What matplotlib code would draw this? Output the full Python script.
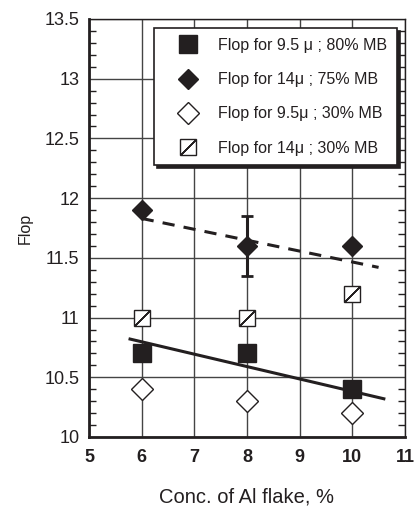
"""Flop vs. Al flake concentration for two particle sizes / MB levels."""
import matplotlib.pyplot as plt
from matplotlib.ticker import MultipleLocator, FormatStrFormatter

plt.rcParams['font.family'] = ['Liberation Sans', 'DejaVu Sans']

conc = [6, 8, 10]
flop_95_80 = [10.7, 10.7, 10.4]
flop_14_75 = [11.9, 11.6, 11.6]
flop_95_30 = [10.4, 10.3, 10.2]
flop_14_30 = [11.0, 11.0, 11.2]

# error bar on the 14u / 75% MB point at 8 %
err_x = [8]
err_y = [11.6]
err_half = [0.25]

# trend lines as drawn in the original
trend_solid_x = [5.78, 10.6]
trend_solid_y = [10.82, 10.32]
trend_dash_x = [6.0, 10.5]
trend_dash_y = [11.83, 11.42]

INK = '#231f20'

fig = plt.figure(figsize=(4.17, 5.08), dpi=100)
ax = fig.add_axes([0.2134, 0.1398, 0.7576, 0.8228])

ax.plot(trend_solid_x, trend_solid_y, color=INK, lw=2.2, zorder=2)
ax.plot(trend_dash_x, trend_dash_y, color=INK, lw=2.2,
        dashes=(4, 3), zorder=2)
ax.errorbar(err_x, err_y, yerr=err_half, fmt='none', ecolor=INK,
            elinewidth=2.2, capsize=4, capthick=2, zorder=3)

h1, = ax.plot(conc, flop_95_80, ls='none', marker='s', ms=12.5, mfc=INK,
              mec=INK, zorder=4)
h2, = ax.plot(conc, flop_14_75, ls='none', marker='D', ms=10, mfc=INK,
              mec=INK, zorder=4)
h3, = ax.plot(conc, flop_95_30, ls='none', marker='D', ms=11.5, mfc='white',
              mec=INK, mew=1.0, zorder=4)
h4, = ax.plot(conc, flop_14_30, ls='none', marker='s', ms=12, mfc='white',
              mec=INK, mew=1.0, zorder=4)
# slash inside the open squares
h4s, = ax.plot(conc, flop_14_30, ls='none', marker=(2, 2, -45), ms=15.5,
               mec=INK, mew=1.0, zorder=5)

ax.set_xlim(5, 11)
ax.set_ylim(10, 13.5)
ax.xaxis.set_major_locator(MultipleLocator(1))
ax.yaxis.set_major_locator(MultipleLocator(0.5))
ax.yaxis.set_minor_locator(MultipleLocator(0.1))
ax.yaxis.set_major_formatter(FormatStrFormatter('%g'))
ax.grid(True, which='major', color='#444444', lw=1.0)
ax.set_axisbelow(True)

ax.tick_params(axis='x', which='both', length=0, pad=9, labelsize=13,
               labelcolor=INK)
ax.tick_params(axis='y', which='major', length=0, pad=7, labelsize=13,
               labelcolor=INK)
ax.tick_params(axis='y', which='minor', direction='in', length=5,
               left=True, right=True, width=1, color=INK)
for lbl in ax.get_xticklabels():
    lbl.set_fontweight('bold')

for side in ['left', 'bottom']:
    ax.spines[side].set_linewidth(2)
for side in ['top', 'right']:
    ax.spines[side].set_linewidth(1)
for sp in ax.spines.values():
    sp.set_color(INK)

ax.set_xlabel('Conc. of Al flake, %', fontsize=14.5, labelpad=15, color=INK)
ax.set_ylabel('Flop', fontsize=11.5, labelpad=8, color=INK)

leg = ax.legend([h1, h2, h3, (h4, h4s)],
                ['Flop for 9.5 \u03bc ; 80% MB', 'Flop for 14\u03bc ; 75% MB',
                 'Flop for 9.5\u03bc ; 30% MB', 'Flop for 14\u03bc ; 30% MB'],
                loc='upper right', bbox_to_anchor=(0.985, 0.985),
                fontsize=11.5, frameon=True, fancybox=False,
                shadow={'color': INK, 'alpha': 1.0},
                borderpad=0.6, labelspacing=1.2, handletextpad=0.4,
                handlelength=3.0, borderaxespad=0.2)
leg.get_frame().set_edgecolor(INK)
leg.get_frame().set_linewidth(1.2)
for t in leg.get_texts():
    t.set_color(INK)

fig.savefig('out.png', dpi=100)
